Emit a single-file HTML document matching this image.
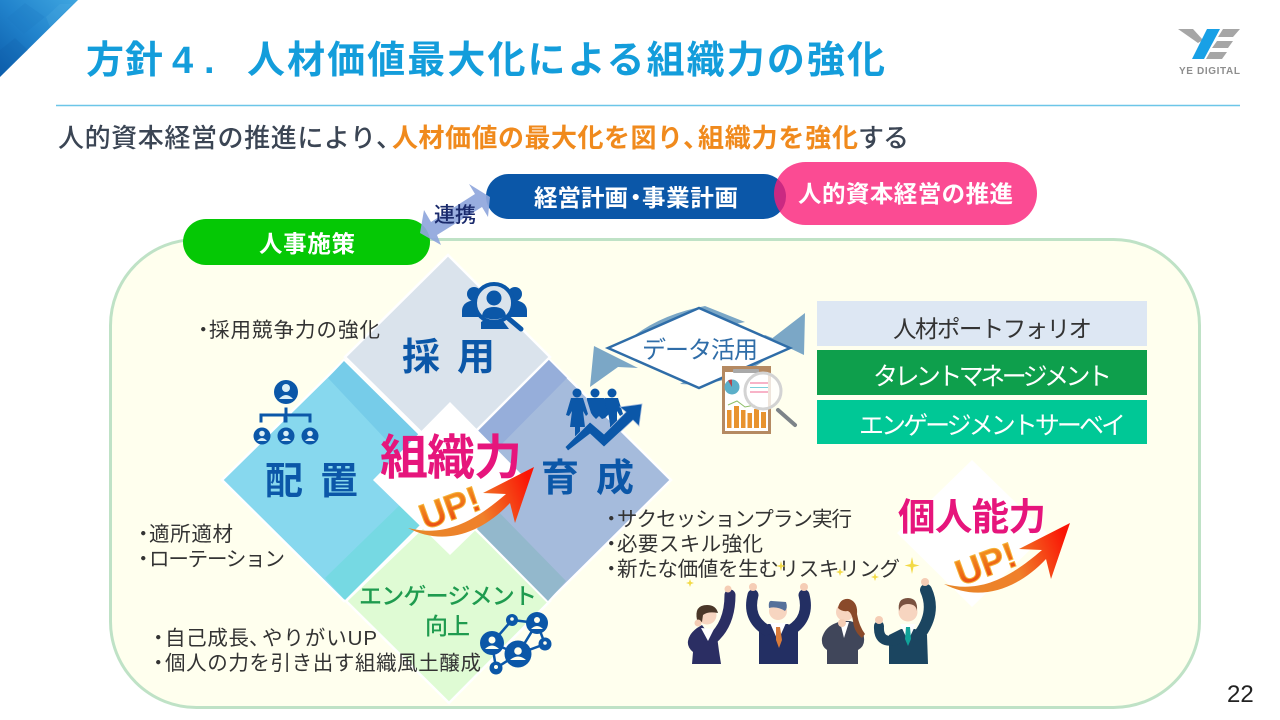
<!DOCTYPE html>
<html lang="ja">
<head>
<meta charset="utf-8">
<style>
html,body{margin:0;padding:0;background:#fff;}
svg{display:block;}
text{font-family:"Liberation Sans","Noto Sans CJK JP",sans-serif;}
.b{font-weight:700;}
.m{font-weight:500;}
.l{font-size:20.500px;fill:#333;}
</style>
</head>
<body>
<svg width="1280" height="720" viewBox="0 0 1280 720" xmlns="http://www.w3.org/2000/svg">
<defs>
<linearGradient id="tri" x1="1" y1="0" x2="0" y2="1"><stop offset="0" stop-color="#3FA6E0"/><stop offset="0.5" stop-color="#2183CC"/><stop offset="1" stop-color="#0C5DAB"/></linearGradient>
<linearGradient id="up" x1="0" y1="0.6" x2="1" y2="0.4"><stop offset="0" stop-color="#E8862A"/><stop offset="0.55" stop-color="#F0802A"/><stop offset="1" stop-color="#FA1505"/></linearGradient>
<linearGradient id="upt" x1="0" y1="1" x2="0" y2="0"><stop offset="0" stop-color="#E8380F"/><stop offset="1" stop-color="#F5A623"/></linearGradient>
<g id="arrow">
<path d="M408 528C440 536 468 527 506 494L483 493L534 467L515 523L510 503C478 537 440 545 408 528Z" fill="url(#up)"/>
<text transform="translate(425 530) rotate(-20)" class="b" font-size="36" fill="url(#upt)" stroke="#F5B33A" stroke-width="1" style="font-weight:700">UP!</text>
</g>
</defs>

<!-- corner -->
<polygon points="0,0 78,0 0,77" fill="url(#tri)"/>
<polygon points="7,18 25,3 45,17 24,34" fill="#1C76BF" opacity=".22"/>
<polygon points="46,17 60,4 72,4 50,27" fill="#5AB6E8" opacity=".2"/>
<polygon points="0,50 15,38 28,50 5,70 0,70" fill="#0D5AA5" opacity=".2"/>

<!-- title -->
<g font-size="38" fill="#139DDB">
<text x="86" y="73" textLength="77" class="b">方針</text>
<text x="172" y="73" class="b">4</text>
<text x="204" y="73" class="b">.</text>
<text x="247" y="73" textLength="638" class="b">人材価値最大化による組織力の強化</text>
</g>

<!-- logo -->
<polygon points="1178,29 1193,29 1203,40 1198,43" fill="#A6A6A6"/>
<polygon points="1207,29 1220,29 1204,59 1192,59" fill="#18A0E6"/>
<polygon points="1223,29 1240,29 1233,37 1218,37" fill="#A6A6A6"/>
<polygon points="1217,41 1233,41 1228,48 1212,48" fill="#A6A6A6"/>
<polygon points="1210,52 1227,52 1222,59 1206,59" fill="#A6A6A6"/>
<text x="1179" y="74" font-size="10" class="b" fill="#8E8E8E" textLength="61">YE DIGITAL</text>

<line x1="56" y1="105.500" x2="1240" y2="105.500" stroke="#6CC6E8" stroke-width="1.500"/>

<!-- subtitle -->
<g font-size="26">
<text x="58" y="147" textLength="318" fill="#3B4554" class="m">人的資本経営の推進により</text>
<text x="376" y="147" fill="#3B4554" class="m">、</text>
<text x="392" y="147" textLength="291" fill="#F08A1D" class="b">人材価値の最大化を図り</text>
<text x="683" y="147" fill="#F08A1D" class="b">、</text>
<text x="698" y="147" textLength="160" fill="#F08A1D" class="b">組織力を強化</text>
<text x="858" y="147" textLength="51" fill="#3B4554" class="m">する</text>
</g>

<!-- container -->
<rect x="110.500" y="239.500" width="1089" height="468" rx="86" ry="86" fill="#FFFFEE" stroke="#BFE2C6" stroke-width="3"/>

<!-- pills -->
<rect x="486" y="174" width="300" height="45" rx="22.500" fill="#0B57A8"/>
<rect x="774" y="162" width="263" height="63" rx="31.500" fill="#FA1E78" opacity=".8"/>
<rect x="183" y="219" width="247" height="46" rx="23" fill="#05C805"/>
<g font-size="23.500" fill="#fff">
<text x="534" y="206" class="b" textLength="94">経営計画</text>
<text x="624" y="206" class="b">・</text>
<text x="642" y="206" class="b" textLength="96">事業計画</text>
<text x="798" y="202" class="b" textLength="215">人的資本経営の推進</text>
<text x="259" y="252" class="b" textLength="96">人事施策</text>
</g>
<!-- link arrow -->
<polygon points="420,233 424,210 431,222 475,194 469,184 490,197 488,217 482,207 437,235 441,245" fill="#8FA6DC" opacity=".92"/>
<text x="434" y="222" font-size="21" class="m" fill="#1A2A6C" textLength="42">連携</text>

<!-- diamonds -->
<polygon points="448,503 550,601 449,703 346,601" fill="#DFFBD4" stroke="#fff" stroke-width="2.500"/>
<polygon points="344,360 466,480 344,601 222,480" fill="#87D8EE" stroke="#fff" stroke-width="2.500"/>
<polygon points="344,361 425,441 405,460 328,378" fill="#76CCE9"/>
<polygon points="325,578 405,500 425,520 345,600" fill="#76D9E3"/>
<polygon points="548,358 671,480 548,602 427,480" fill="#A5BBDC" stroke="#fff" stroke-width="2.500"/>
<polygon points="548,359 567,378 489,457 470,438" fill="#96AEDA"/>
<polygon points="470,522 490,503 566,581 548,601" fill="#93B8CC"/>
<polygon points="448,255 550,357 448,459 345,357" fill="#DAE3EC" stroke="#fff" stroke-width="2.500"/>
<polygon points="450,402 527,480 450,555 373,480" fill="#fff"/>

<!-- diamond labels -->
<g fill="#0B57A8" font-size="38">
<text x="402" y="370" class="b">採</text><text x="457" y="370" class="b">用</text>
<text x="265" y="494" class="b">配</text><text x="320" y="494" class="b">置</text>
<text x="541" y="491" class="b">育</text><text x="596" y="491" class="b">成</text>
</g>
<text x="359" y="604" font-size="23" class="m" fill="#1F9B4F" textLength="178">エンゲージメント</text>
<text x="425" y="634" font-size="23" class="m" fill="#1F9B4F" textLength="45">向上</text>

<!-- center -->
<text x="380" y="474" font-size="48" class="b" fill="#E6157C" textLength="142">組織力</text>
<use href="#arrow"/>

<!-- person search icon -->
<g fill="#0B57A8">
<circle cx="474" cy="294" r="7"/><circle cx="515" cy="294" r="7"/>
<path d="M462 317v-6q0-9 12-11l6 17Z"/><path d="M527 317v-6q0-9-12-11l-6 17Z"/>
<circle cx="494" cy="303" r="19" fill="#DAE3EC" stroke="#0B57A8" stroke-width="4"/>
<circle cx="494" cy="298" r="7.500"/>
<path d="M482 316q1-9 12-9t12 9q-12 7-24 0Z"/>
<path d="M481 329v-7l5-3q8 5 17 2l6 8Z"/>
<line x1="508" y1="318" x2="521" y2="329" stroke="#0B57A8" stroke-width="5" stroke-linecap="round"/>
</g>

<!-- org icon -->
<g fill="#0B57A8">
<circle cx="286" cy="392" r="12"/>
<circle cx="286" cy="388" r="4" fill="#DAEEF6"/><path d="M279 399q7-8 14 0Z" fill="#DAEEF6"/>
<path d="M285 408h2v6h24v8h-2v-6h-22v6h-3v-6h-22v6h-2v-8h25Z" stroke="#0B57A8"/>
<circle cx="262" cy="436" r="8.500"/><circle cx="286" cy="436" r="8.500"/><circle cx="310" cy="436" r="8.500"/>
<g fill="#DAEEF6">
<circle cx="262" cy="433.500" r="2.800"/><circle cx="286" cy="433.500" r="2.800"/><circle cx="310" cy="433.500" r="2.800"/>
<path d="M257 441q5-6 10 0Z"/><path d="M281 441q5-6 10 0Z"/><path d="M305 441q5-6 10 0Z"/>
</g>
</g>

<!-- team icon -->
<g fill="#0B57A8">
<circle cx="577" cy="393" r="4.500"/><circle cx="595" cy="393" r="4.500"/><circle cx="612" cy="393" r="4.500"/>
<path d="M571 398h12l5 16-2 2-3-5 2 16h-5v9h-5v-9h-5l2-16-3 5-3-1Z"/>
<path d="M587 398h17l3 2 2 14-4 4-3 1-3-3-3 3-3-3-2-3-4-13Z"/>
<path d="M605 398h13l5 16-3 2-3-5v14l-3 3v8h-4v-12l-2-12-3-9Z"/>
<path d="M568 451l-3-4 25-25 14 12 22-22-6-5 22-3-3 22-6-6-29 27-14-13Z" stroke="#A5BBDC" stroke-width="0.800"/>
</g>

<!-- data usage -->
<path d="M620 348Q652 316 705 306L745 322L700 332Z" fill="#7BA7C6"/>
<polygon points="590,387 594,346 638,368 618,367" fill="#7BA7C6"/>
<polygon points="805,313 804,355 758,333 770,340" fill="#7BA7C6"/>
<path d="M680 384Q740 388 785 343L765 335L690 378Z" fill="#7BA7C6"/>
<polygon points="608,348 699,308 790,348 699,388" fill="#fff" stroke="#2F6DA8" stroke-width="2.500"/>
<text x="642" y="358" font-size="24" fill="#2F6DA8" textLength="116">データ活用</text>

<!-- clipboard -->
<rect x="722" y="366" width="49" height="68" fill="#B58A62"/>
<rect x="725" y="372" width="43" height="59" fill="#fff"/>
<rect x="733" y="369" width="26" height="4" rx="1" fill="#A9A9A9"/>
<circle cx="732" cy="387" r="7.500" fill="#5BAFC9"/>
<path d="M732 387l-4-6.500a7.500 7.500 0 0 1 4-1Z" fill="#B5444A"/>
<polyline points="728,405 737,401 745,407 755,405" fill="none" stroke="#8FBF6A" stroke-width="1"/>
<g fill="#E8932F">
<rect x="727" y="410" width="4.500" height="18"/><rect x="734" y="406" width="5" height="22"/><rect x="741" y="410" width="4.500" height="18"/><rect x="747.500" y="413" width="4.500" height="15"/><rect x="754" y="409" width="5" height="19"/><rect x="761" y="412" width="5" height="16"/>
</g>
<circle cx="763" cy="391" r="18" fill="#fff" fill-opacity=".78" stroke="#D3D3D3" stroke-width="3"/>
<g stroke="#F59AB5" stroke-width="1.500"><line x1="750" y1="383" x2="768" y2="383"/><line x1="750" y1="392" x2="768" y2="392"/></g>
<g stroke="#7FD0DC" stroke-width="1"><line x1="750" y1="387.500" x2="768" y2="387.500"/></g>
<line x1="778" y1="410" x2="795" y2="425" stroke="#7D8489" stroke-width="4" stroke-linecap="round"/>

<!-- right bars -->
<rect x="817" y="301" width="330" height="45" fill="#DDE7F3"/>
<rect x="817" y="350" width="330" height="45" fill="#0E9F4C"/>
<rect x="817" y="400" width="330" height="44" fill="#00C896"/>
<text x="893" y="337" font-size="23.500" fill="#333" textLength="199">人材ポートフォリオ</text>
<text x="873" y="385" font-size="25" fill="#fff" textLength="239">タレントマネージメント</text>
<text x="859" y="434" font-size="25" fill="#fff" textLength="267">エンゲージメントサーベイ</text>

<!-- lists -->
<g class="l">
<text x="193" y="337" class="l">・</text><text x="209" y="337" class="l" textLength="171">採用競争力の強化</text>
<text x="133" y="541" class="l">・</text><text x="149" y="541" class="l" textLength="84">適所適材</text>
<text x="133" y="566" class="l">・</text><text x="149" y="566" class="l" textLength="136">ローテーション</text>
<text x="148" y="645" class="l">・</text><text x="165" y="645" class="l" textLength="84">自己成長</text><text x="249" y="645" class="l">、</text><text x="262" y="645" class="l" textLength="115">やりがいUP</text>
<text x="148" y="670" class="l">・</text><text x="165" y="670" class="l" textLength="316">個人の力を引き出す組織風土醸成</text>
<text x="601" y="526" class="l">・</text><text x="617" y="526" class="l" textLength="235">サクセッションプラン実行</text>
<text x="601" y="551" class="l">・</text><text x="617" y="551" class="l" textLength="146">必要スキル強化</text>
<text x="601" y="576" class="l">・</text><text x="617" y="576" class="l" textLength="283">新たな価値を生むリスキリング</text>
</g>

<!-- network icon -->
<polyline points="492,643 512,620 537,623 545,644 518,654 492,643 496,668 518,654 537,623" stroke="#0B57A8" stroke-width="2.500" fill="none"/>
<g fill="#0B57A8">
<circle cx="492" cy="643" r="12"/><circle cx="537" cy="623" r="11"/><circle cx="518" cy="654" r="13.500"/>
<circle cx="512" cy="620" r="6"/><circle cx="545" cy="644" r="6.500"/><circle cx="496" cy="668" r="6.500"/>
</g>
<g fill="#FFFFEE">
<circle cx="492" cy="640" r="3.500"/><path d="M485 649q7-7 14 0Z"/>
<circle cx="537" cy="620" r="3"/><path d="M531 629q6-6 12 0Z"/>
<circle cx="518" cy="651" r="3.800"/><path d="M510 660q8-7 16 0Z"/>
<circle cx="512" cy="619" r="1.800"/><circle cx="545" cy="643" r="1.800"/><circle cx="496" cy="667" r="2"/>
</g>

<!-- individual -->
<polygon points="972,460 1047,533 972,607 897,533" fill="#fff"/>
<text x="898" y="530" font-size="37.500" class="b" fill="#E6157C" textLength="148">個人能力</text>
<use href="#arrow" transform="translate(536 56)"/>

<!-- sparkles -->
<g fill="#F3DA45">
<path d="M912 557l1.500 7 6 1.500-6 1.500-1.500 7-1.500-7-6-1.500 6-1.500Z"/>
<path d="M690 579l1 3 3 1-3 1-1 3-1-3-3-1 3-1Z"/>
<path d="M781 561l1 4 4 1-4 1-1 4-1-4-4-1 4-1Z"/>
<path d="M875 573l1 3 3 1-3 1-1 3-1-3-3-1 3-1Z"/>
<path d="M840 568l1 3 3 1-3 1-1 3-1-3-3-1 3-1Z"/>
</g>

<!-- people -->
<g fill="none" stroke-linecap="round">
<!-- 1 -->
<path d="M692 664l1-12q-6-5-5-11 1-7 9-13l5-3 6 8 8-4 3 22 2 13Z" fill="#2B2E63"/>
<path d="M711 640Q730 625 730 595" stroke="#2B2E63" stroke-width="11"/>
<circle cx="728" cy="589" r="3.500" fill="#F5CDB5"/>
<path d="M701 628l7 13 6-12Z" fill="#fff"/>
<circle cx="707" cy="615" r="9.500" fill="#F7D5C0"/>
<path d="M697 620q-3-15 10-15 9 0 11 8-10-2-15 2l-1 7Z" fill="#4A3728"/>
<circle cx="698" cy="623" r="3.500" fill="#F5CDB5"/>
<!-- 2 -->
<path d="M759 664v-33l9-7h20l10 7v33Z" fill="#232F63"/>
<path d="M753 595Q747 618 766 630" stroke="#232F63" stroke-width="11"/>
<path d="M804 595Q810 618 791 630" stroke="#232F63" stroke-width="11"/>
<circle cx="753" cy="587" r="4" fill="#F5CDB5"/><circle cx="804" cy="587" r="4" fill="#F5CDB5"/>
<path d="M770 623h16l-8 18Z" fill="#fff"/>
<path d="M776 627h4l2 13-3 8-3-8Z" fill="#D97B3A"/>
<circle cx="778" cy="611" r="9" fill="#F7D5C0"/>
<path d="M769 608q-1-8 3-7l14 1q2 6-1 9-8-5-16-3Z" fill="#55709A"/>
<!-- 3 -->
<path d="M827 664v-14q-6-4-5-12 3-11 14-15l5-2h9q13 3 14 17 1 8-6 12v14Z" fill="#40465A"/>
<path d="M840 622l4 16 5-16Z" fill="#fff"/>
<circle cx="845" cy="612" r="9" fill="#F7D5C0"/>
<path d="M838 608q2-10 11-9 9 3 8 15 2 12 8 20l-3 4q-8-6-9-17-1-8-5-10-6 1-10-3Z" fill="#8A4A2A"/>
<circle cx="842" cy="623" r="4" fill="#F5CDB5"/>
<!-- 4 -->
<path d="M889 664v-29l12-6h14l12 6 1 29Z" fill="#1B4560"/>
<path d="M926 590Q936 612 920 634" stroke="#1B4560" stroke-width="12"/>
<path d="M879 626Q878 644 896 640" stroke="#1B4560" stroke-width="10"/>
<circle cx="879" cy="620" r="4" fill="#F5CDB5"/><circle cx="925" cy="582" r="4" fill="#F5CDB5"/>
<path d="M900 624h16l-8 17Z" fill="#fff"/>
<path d="M906 627h4l1 12-3 7-3-7Z" fill="#10A39A"/>
<circle cx="908" cy="612" r="9.500" fill="#F7D5C0"/>
<path d="M899 611q-2-13 9-13 10 0 9 13-1-7-9-7-7 0-9 7Z" fill="#7A5240"/>
</g>

<text x="1227" y="702" font-size="24" fill="#222">22</text>
</svg>
</body>
</html>
